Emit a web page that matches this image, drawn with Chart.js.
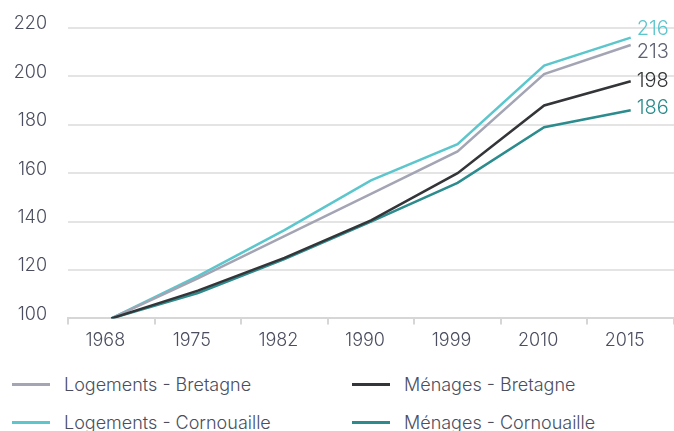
<!DOCTYPE html>
<html lang="fr">
<head>
<meta charset="utf-8">
<title>Logements et ménages</title>
<script src="https://cdn.jsdelivr.net/npm/chart.js@4/dist/chart.umd.min.js"></script>
<style>
    body { margin: 0; background: #fff; font-family: "Inter", "Lato", sans-serif; }
    #wrap { position: relative; width: 674px; height: 431px; overflow: hidden; }
    #chartBox { position: absolute; left: 0; top: 0; width: 674px; height: 356px; }
    #legend {
        position: absolute; left: 12px; top: 371px;
        display: grid; grid-template-columns: 340px 300px; row-gap: 12px;
    }
    .item { display: flex; align-items: center; height: 26px; font-size: 18px; font-weight: 300; color: #4a4e5e; }
    .swatch { width: 38px; height: 3px; margin-right: 14px; }
</style>
</head>
<body>
<div id="wrap">
    <div id="chartBox"><canvas id="trendChart"></canvas></div>
    <div id="legend"></div>
</div>
<script>
// Indices base 100 en 1968
const years = ['1968', '1975', '1982', '1990', '1999', '2010', '2015'];
const logementsBretagne = [100, 116.5, 134, 151.5, 169, 201, 213];
const menagesBretagne = [100, 111.5, 125, 140.5, 160, 188, 198];
const logementsCornouaille = [100, 117.5, 136.5, 157, 172, 204.5, 216];
const menagesCornouaille = [100, 110.5, 124.5, 140, 156, 179, 186];
const yTicks = [100, 120, 140, 160, 180, 200, 220];

const seriesNames = ['Logements - Bretagne', 'Ménages - Bretagne', 'Logements - Cornouaille', 'Ménages - Cornouaille'];
const seriesData = [logementsBretagne, menagesBretagne, logementsCornouaille, menagesCornouaille];
const seriesColors = ['#a3a5b4', '#333538', '#5cc6cd', '#2b8b8d'];
// shift of the end label so close values do not collide
const endLabelShift = [7, 0, -9, -2];

const FONT = '"Inter", "Lato", sans-serif';

// Draws the last value of each line at its right end
const endLabels = {
    id: 'endLabels',
    afterDatasetsDraw(chart) {
        const ctx = chart.ctx;
        ctx.save();
        ctx.font = '300 20px ' + FONT;
        ctx.textBaseline = 'middle';
        ctx.textAlign = 'left';
        chart.data.datasets.forEach((ds, i) => {
            const meta = chart.getDatasetMeta(i);
            const last = meta.data[meta.data.length - 1];
            const value = ds.data[ds.data.length - 1];
            ctx.fillStyle = i === 0 ? '#5d6172' : ds.borderColor;
            ctx.fillText(Math.round(value), last.x + 6, last.y + endLabelShift[i]);
        });
        ctx.restore();
    }
};

const datasets = seriesNames.map((name, i) => ({
    label: name,
    data: seriesData[i],
    borderColor: seriesColors[i],
    backgroundColor: seriesColors[i],
    borderWidth: 2.5,
    pointRadius: 0,
    tension: 0,
    fill: false
}));

// Bretagne lines sit on top of the Cornouaille ones
datasets[0].order = 2;
datasets[1].order = 1;
datasets[2].order = 3;
datasets[3].order = 4;

new Chart(document.getElementById('trendChart'), {
    type: 'line',
    data: { labels: years, datasets: datasets },
    plugins: [endLabels],
    options: {
        responsive: true,
        maintainAspectRatio: false,
        animation: false,
        layout: { padding: { top: 28, right: 0, left: 0, bottom: 0 } },
        plugins: {
            legend: { display: false },
            tooltip: { enabled: false }
        },
        scales: {
            x: {
                offset: true,
                grid: {
                    offset: true,
                    drawOnChartArea: false,
                    color: '#d6d6d6',
                    lineWidth: 2,
                    tickLength: 6
                },
                border: { color: '#d6d6d6', width: 2 },
                ticks: {
                    color: '#4a4e5e',
                    font: { family: FONT, size: 18, weight: '300' },
                    padding: 5,
                    labelOffset: -6,
                    maxRotation: 0
                }
            },
            y: {
                min: 100,
                max: 220,
                afterBuildTicks(scale) {
                    scale.ticks = yTicks.map(v => ({ value: v }));
                },
                afterFit(scale) {
                    scale.width = 68;
                    scale.paddingTop = 0;
                },
                grid: {
                    color: '#e4e4e4',
                    lineWidth: 2,
                    drawTicks: false
                },
                border: { display: false },
                ticks: {
                    color: '#4a4e5e',
                    font: { family: FONT, size: 18, weight: '300' },
                    padding: 21,
                    labelOffset: -4
                }
            }
        }
    }
});

// HTML legend, two columns
const legend = document.getElementById('legend');
seriesNames.forEach((name, i) => {
    const item = document.createElement('div');
    item.className = 'item';
    item.innerHTML = '<span class="swatch" style="background:' + seriesColors[i] + '"></span>' + name;
    legend.appendChild(item);
});
</script>
</body>
</html>
